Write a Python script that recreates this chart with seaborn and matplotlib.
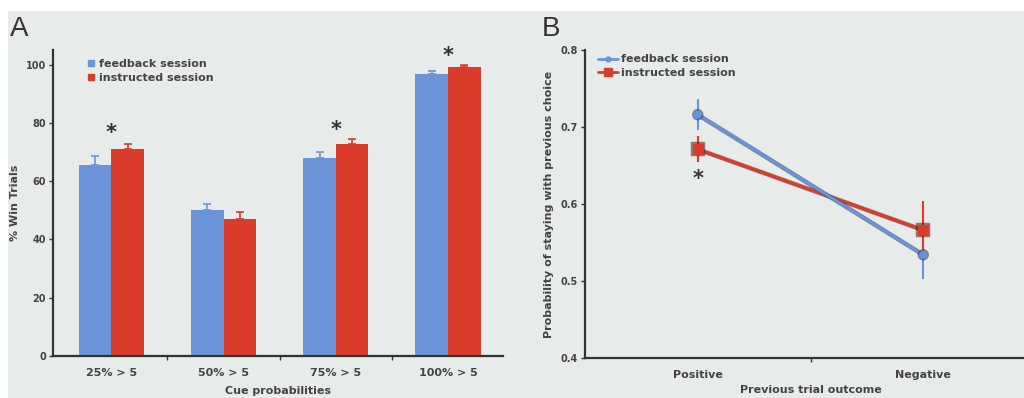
import matplotlib
matplotlib.use("Agg")
import matplotlib.pyplot as plt
import matplotlib.patheffects as pe
from matplotlib.lines import Line2D
from matplotlib.patches import Rectangle
import numpy as np
import pandas as pd
import seaborn as sns

# ---------------------------------------------------------------------------
# Data
# ---------------------------------------------------------------------------
cues = ["25% > 5", "50% > 5", "75% > 5", "100% > 5"]
feedback_win = [65.4, 50.0, 68.0, 96.7]
instructed_win = [70.9, 46.9, 72.8, 99.0]
feedback_win_err = [3.1, 2.3, 2.0, 1.0]
instructed_win_err = [1.9, 2.4, 1.5, 1.0]
star_cues = ["25% > 5", "75% > 5", "100% > 5"]
star_win = [76.4, 77.4, 103.0]

outcomes = ["Positive", "Negative"]
feedback_stay = [0.716, 0.534]
instructed_stay = [0.671, 0.566]
feedback_stay_err = [0.020, 0.031]
instructed_stay_err = [0.017, 0.038]
star_outcome = ["Positive"]
star_stay = [0.632]

sessions = ["feedback session", "instructed session"]
BLUE = "#6a93d9"
RED = "#db3b2b"
DARK = "#333333"
TEXT = "#444444"
BG = "#e7ebea"

sns.set_style("ticks")
plt.rcParams["font.family"] = ["DejaVu Sans"]

fig = plt.figure(figsize=(10.24, 3.98), dpi=100, facecolor="white")
fig.patches.append(Rectangle((8 / 1024, 0), 1, 1 - 11 / 398, transform=fig.transFigure,
                             facecolor=BG, edgecolor="none", zorder=-10))

ax_a = fig.add_axes([53 / 1024, 1 - 356 / 398, 450 / 1024, 306 / 398])
ax_b = fig.add_axes([585 / 1024, 1 - 358 / 398, 451 / 1024, 308 / 398])


def _style(ax):
    ax.set_facecolor("none")
    sns.despine(ax=ax)
    for side in ("left", "bottom"):
        ax.spines[side].set_color(DARK)
        ax.spines[side].set_linewidth(1.6)
    ax.tick_params(axis="y", direction="out", length=3, width=1, color=DARK,
                   labelsize=7, labelcolor=TEXT, pad=2)
    ax.tick_params(axis="x", which="major", length=0, labelsize=8, labelcolor=TEXT, pad=9)
    ax.tick_params(axis="x", which="minor", direction="out", length=3, width=1, color=DARK)
    for lab in ax.get_yticklabels() + ax.get_xticklabels():
        lab.set_fontweight("bold")


# ---------------------------------------------------------------------------
# Panel A: grouped bars
# ---------------------------------------------------------------------------
df_a = pd.DataFrame({
    "cue": cues * 2,
    "session": [sessions[0]] * len(cues) + [sessions[1]] * len(cues),
    "win": feedback_win + instructed_win,
})
sns.barplot(data=df_a, x="cue", y="win", hue="session", order=cues, hue_order=sessions,
            palette=[BLUE, RED], width=0.58, gap=0, errorbar=None, legend=False,
            saturation=1, linewidth=0, edgecolor="none", ax=ax_a)
for cont, err, col in zip(ax_a.containers, [feedback_win_err, instructed_win_err], [BLUE, RED]):
    xs = [b.get_x() + b.get_width() / 2 for b in cont]
    hs = [b.get_height() for b in cont]
    ax_a.errorbar(xs, hs, yerr=[np.zeros(len(err)), err], fmt="none", ecolor=col,
                  elinewidth=1.2, capsize=3, capthick=1.2, zorder=1)
for cue, y in zip(star_cues, star_win):
    ax_a.text(cues.index(cue), y, "*", ha="center", va="center", fontsize=15,
              fontweight="bold", color=DARK)

ax_a.set_xlim(-0.52, 3.49)
ax_a.set_ylim(0, 105)
ax_a.set_yticks([0, 20, 40, 60, 80, 100])
ax_a.set_xticks([0.5, 1.5, 2.5], minor=True)
ax_a.set_xlabel("Cue probabilities", fontsize=8, fontweight="bold", color=TEXT)
ax_a.set_ylabel("% Win Trials", fontsize=8, fontweight="bold", color=TEXT)
ax_a.xaxis.set_label_coords(0.5, -0.098)
ax_a.yaxis.set_label_coords(-0.073, 0.5)
_style(ax_a)
handles_a = [Line2D([], [], marker="s", ls="none", color=c, markersize=5) for c in (BLUE, RED)]
ax_a.legend(handles_a, sessions, loc="upper left", bbox_to_anchor=(0.065, 0.985), frameon=False,
            handletextpad=0.3, labelspacing=0.35, prop={"size": 8, "weight": "bold"},
            labelcolor=TEXT, handlelength=0.8, borderaxespad=0)

# ---------------------------------------------------------------------------
# Panel B: point/line plot
# ---------------------------------------------------------------------------
df_b = pd.DataFrame({
    "outcome": outcomes * 2,
    "session": [sessions[0]] * len(outcomes) + [sessions[1]] * len(outcomes),
    "stay": feedback_stay + instructed_stay,
})
sns.pointplot(data=df_b, x="outcome", y="stay", hue="session", order=outcomes,
              hue_order=sessions[::-1], palette=[RED, BLUE], markers=["s", "o"],
              errorbar=None, legend=False, linewidth=2.2, markersize=3, ax=ax_b)
for line, edge, ms in zip(ax_b.lines, ["#5a2a1a", "#2a3f6a"], [7, 5]):
    line.set_markersize(ms)
    line.set_markeredgewidth(0.8)
    line.set_path_effects([pe.Stroke(linewidth=3.2, foreground=edge, alpha=0.6), pe.Normal()])
for vals, err, col in zip([feedback_stay, instructed_stay],
                          [feedback_stay_err, instructed_stay_err], [BLUE, RED]):
    ax_b.errorbar(outcomes, vals, yerr=err, fmt="none", ecolor=col, elinewidth=1.5,
                  capsize=0, zorder=1)
for oc, y in zip(star_outcome, star_stay):
    ax_b.text(outcomes.index(oc), y, "*", ha="center", va="center", fontsize=15,
              fontweight="bold", color=DARK)

ax_b.set_xlim(-0.5, 1.5)
ax_b.set_ylim(0.4, 0.8)
ax_b.set_yticks([0.4, 0.5, 0.6, 0.7, 0.8])
ax_b.set_xticks([0.5], minor=True)
ax_b.set_xlabel("Previous trial outcome", fontsize=8, fontweight="bold", color=TEXT)
ax_b.set_ylabel("Probability of staying with previous choice", fontsize=8,
                fontweight="bold", color=TEXT)
ax_b.xaxis.set_label_coords(0.5, -0.088)
ax_b.yaxis.set_label_coords(-0.069, 0.5)
_style(ax_b)
handles_b = [Line2D([], [], color=BLUE, marker="o", markersize=3.5, lw=2),
             Line2D([], [], color=RED, marker="s", markersize=6, lw=2)]
ax_b.legend(handles_b, sessions, loc="upper left", bbox_to_anchor=(0.02, 1.0), frameon=False,
            handletextpad=0.2, labelspacing=0.3, prop={"size": 8, "weight": "bold"},
            labelcolor=TEXT, handlelength=1.8, borderaxespad=0)

fig.text(10 / 1024, 1 - 36 / 398, "A", fontsize=20, color=DARK, family="Liberation Sans")
fig.text(542 / 1024, 1 - 36 / 398, "B", fontsize=20, color=DARK, family="Liberation Sans")

fig.savefig("out.png", dpi=100, facecolor="white")
